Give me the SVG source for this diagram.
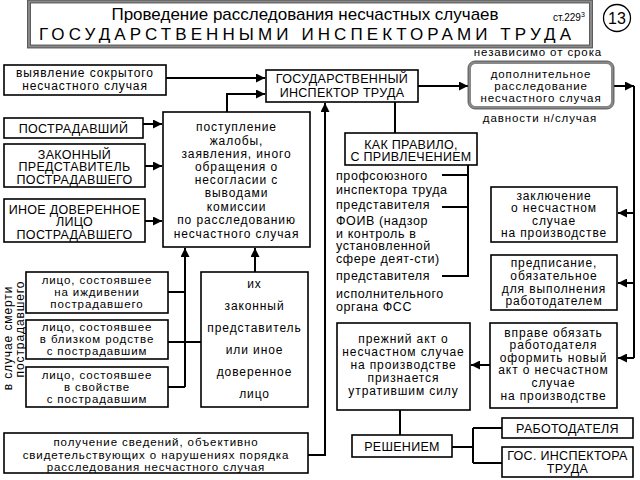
<svg xmlns="http://www.w3.org/2000/svg" width="640" height="480" viewBox="0 0 640 480">
<style>
text{font-family:"Liberation Sans",Arial,sans-serif;fill:#000}
.t{font-size:12px;letter-spacing:0.9px;text-anchor:middle}
.s{font-size:11.5px;letter-spacing:0.9px;text-anchor:middle}
.u{font-size:12.5px;letter-spacing:0.3px;text-anchor:middle}
.l{font-size:12.5px;letter-spacing:0.6px}
.b{fill:#fff;stroke:#000;stroke-width:1.6}
.c{fill:none;stroke:#000;stroke-width:2}
.ca{fill:none;stroke:#000;stroke-width:2;marker-end:url(#ah)}
</style>
<defs>
<marker id="ah" viewBox="0 0 10 10" refX="10" refY="5" markerWidth="5" markerHeight="4.5" orient="auto" markerUnits="strokeWidth">
<path d="M0,0 L10,5 L0,10 z" fill="#000"/>
</marker>
</defs>
<rect width="640" height="480" fill="#fff"/>

<g id="header">
<rect x="29" y="1.5" width="562" height="45" fill="#fff" stroke="#888" stroke-width="3"/>
<rect x="27.5" y="0" width="565" height="48" fill="none" stroke="#444" stroke-width="0.8"/>
<rect x="30.5" y="3" width="559" height="42" fill="none" stroke="#444" stroke-width="0.8"/>
<text x="305" y="20" style="font-size:17px;text-anchor:middle">Проведение расследования несчастных случаев</text>
<text x="39" y="40" style="font-size:17px" textLength="532" lengthAdjust="spacing">ГОСУДАРСТВЕННЫМИ ИНСПЕКТОРАМИ ТРУДА</text>
<text x="553" y="21" style="font-size:10px">ст.229<tspan dy="-4" style="font-size:7px">3</tspan></text>
</g>
<g id="num">
<circle cx="617" cy="18" r="13.5" fill="#fff" stroke="#000" stroke-width="1.3"/>
<text x="617" y="24" style="font-size:16px;text-anchor:middle">13</text>
</g>

<g id="connectors">
<path class="ca" d="M166,78 H265"/>
<path class="ca" d="M227,112 V94 H265"/>
<path class="ca" d="M143,124 H162"/>
<path class="ca" d="M145,166 H162"/>
<path class="ca" d="M145,221 H162"/>
<path class="c" d="M168,292 H185 M168,387 H185"/>
<path class="ca" d="M185,387 V248"/>
<path class="c" d="M168,342 H201"/>
<path class="ca" d="M255,272 V248"/>
<path class="ca" d="M308,455 H325 V103"/>
<path class="ca" d="M418,86 H468"/>
<path class="ca" d="M613,86 H634"/>
<path class="c" d="M634,86 V358"/>
<path class="ca" d="M634,213 H618"/>
<path class="ca" d="M634,283 H618"/>
<path class="ca" d="M634,358 H618"/>
<path class="ca" d="M490,365 H471"/>
<path class="c" d="M395,102 V133"/>
<path class="c" d="M468,165 V277 M442,175 H468 M442,207 H468 M442,276 H468"/>
<path class="c" d="M400,410 V435"/>
<path class="c" d="M452,447 H473 M473,428 V463 M473,428 H502 M473,463 H502"/>
</g>

<g id="n-vyyavlenie">
<rect class="b" x="4" y="65" width="162" height="30"/>
<text class="t" x="85" y="77">выявление сокрытого</text>
<text class="t" x="85" y="90">несчастного случая</text>
</g>
<g id="n-git">
<rect class="b" x="266" y="70" width="152" height="32"/>
<text class="u" x="342" y="83">ГОСУДАРСТВЕННЫЙ</text>
<text class="u" x="342" y="97">ИНСПЕКТОР ТРУДА</text>
</g>
<g id="n-dop">
<text class="s" x="538" y="56">независимо от срока</text>
<rect x="469.5" y="62.5" width="143" height="45" rx="6" fill="#fff" stroke="#888" stroke-width="3"/>
<rect x="468" y="61" width="146" height="48" rx="7" fill="none" stroke="#444" stroke-width="0.8"/>
<text class="s" x="541" y="78">дополнительное</text>
<text class="s" x="541" y="90">расследование</text>
<text class="s" x="541" y="102">несчастного случая</text>
<text class="s" x="540" y="122">давности н/случая</text>
</g>
<g id="n-postradavshiy">
<rect class="b" x="4" y="118" width="139" height="20"/>
<text class="u" x="73.5" y="132.5">ПОСТРАДАВШИЙ</text>
</g>
<g id="n-zakonny">
<rect class="b" x="4" y="144" width="141" height="43"/>
<text class="u" x="74.5" y="158.5">ЗАКОННЫЙ</text>
<text class="u" x="74.5" y="171">ПРЕДСТАВИТЕЛЬ</text>
<text class="u" x="74.5" y="183.5">ПОСТРАДАВШЕГО</text>
</g>
<g id="n-inoe">
<rect class="b" x="4" y="199" width="141" height="43"/>
<text class="u" x="74.5" y="213.5">ИНОЕ ДОВЕРЕННОЕ</text>
<text class="u" x="74.5" y="226">ЛИЦО</text>
<text class="u" x="74.5" y="238.5">ПОСТРАДАВШЕГО</text>
</g>
<g id="n-postuplenie">
<rect class="b" x="163" y="112" width="147" height="135"/>
<text class="t" x="236.5" y="131">поступление</text>
<text class="t" x="236.5" y="144.5">жалобы,</text>
<text class="t" x="236.5" y="157.5">заявления, иного</text>
<text class="t" x="236.5" y="170.5">обращения о</text>
<text class="t" x="236.5" y="184">несогласии с</text>
<text class="t" x="236.5" y="197">выводами</text>
<text class="t" x="236.5" y="210.5">комиссии</text>
<text class="t" x="236.5" y="224">по расследованию</text>
<text class="t" x="236.5" y="237.5">несчастного случая</text>
</g>
<g id="n-smert">
<text class="t" transform="translate(12,338) rotate(-90)">в случае смерти</text>
<text class="t" transform="translate(24,329) rotate(-90)">пострадавшего</text>
</g>
<g id="n-izhdivenie">
<rect class="b" x="26" y="272" width="142" height="41"/>
<text class="s" x="97" y="283.5">лицо, состоявшее</text>
<text class="s" x="97" y="295.5">на иждивении</text>
<text class="s" x="97" y="307.5">пострадавшего</text>
</g>
<g id="n-rodstvo">
<rect class="b" x="26" y="320" width="142" height="39"/>
<text class="s" x="97" y="331">лицо, состоявшее</text>
<text class="s" x="97" y="343">в близком родстве</text>
<text class="s" x="97" y="355">с пострадавшим</text>
</g>
<g id="n-svoystvo">
<rect class="b" x="26" y="367" width="142" height="40"/>
<text class="s" x="97" y="378.5">лицо, состоявшее</text>
<text class="s" x="97" y="390.5">в свойстве</text>
<text class="s" x="97" y="402.5">с пострадавшим</text>
</g>
<g id="n-ih">
<rect class="b" x="201" y="272" width="107" height="135"/>
<text class="t" x="254.5" y="287.5">их</text>
<text class="t" x="254.5" y="309.5">законный</text>
<text class="t" x="254.5" y="331.5">представитель</text>
<text class="t" x="254.5" y="353.5">или иное</text>
<text class="t" x="254.5" y="375.5">доверенное</text>
<text class="t" x="254.5" y="397.5">лицо</text>
</g>
<g id="n-poluchenie">
<rect class="b" x="4" y="433" width="304" height="40"/>
<text class="s" x="156" y="446">получение сведений, объективно</text>
<text class="s" x="156" y="458.5">свидетельствующих о нарушениях порядка</text>
<text class="s" x="156" y="470.5">расследования несчастного случая</text>
</g>
<g id="n-kakpravilo">
<rect class="b" x="345" y="133" width="132" height="32"/>
<text class="u" x="411" y="148.5">КАК ПРАВИЛО,</text>
<text class="u" x="411" y="161">С ПРИВЛЕЧЕНИЕМ</text>
</g>
<g id="n-privlechenie">
<text class="l" x="336" y="179.5">профсоюзного</text>
<text class="l" x="336" y="194">инспектора труда</text>
<text class="l" x="336" y="208.5">представителя</text>
<text class="l" x="336" y="225">ФОИВ (надзор</text>
<text class="l" x="336" y="237.5">и контроль в</text>
<text class="l" x="336" y="250">установленной</text>
<text class="l" x="336" y="262.5">сфере деят-сти)</text>
<text class="l" x="336" y="279.5">представителя</text>
<text class="l" x="336" y="298">исполнительного</text>
<text class="l" x="336" y="310.5">органа ФСС</text>
</g>
<g id="n-zaklyuchenie">
<rect class="b" x="491" y="187" width="126" height="55"/>
<text class="t" x="554" y="199.5">заключение</text>
<text class="t" x="554" y="212">о несчастном</text>
<text class="t" x="554" y="224.5">случае</text>
<text class="t" x="554" y="237">на производстве</text>
</g>
<g id="n-predpisanie">
<rect class="b" x="491" y="255" width="126" height="55"/>
<text class="t" x="554" y="267">предписание,</text>
<text class="t" x="554" y="279.5">обязательное</text>
<text class="t" x="554" y="292.5">для выполнения</text>
<text class="t" x="554" y="305">работодателем</text>
</g>
<g id="n-vprave">
<rect class="b" x="490" y="323" width="127" height="85"/>
<text class="t" x="553.5" y="336.5">вправе обязать</text>
<text class="t" x="553.5" y="349">работодателя</text>
<text class="t" x="553.5" y="361.5">оформить новый</text>
<text class="t" x="553.5" y="374">акт о несчастном</text>
<text class="t" x="553.5" y="387">случае</text>
<text class="t" x="553.5" y="399.5">на производстве</text>
</g>
<g id="n-prezhniy">
<rect class="b" x="337" y="323" width="133" height="87"/>
<text class="t" x="403.5" y="343">прежний акт о</text>
<text class="t" x="403.5" y="356">несчастном случае</text>
<text class="t" x="403.5" y="369">на производстве</text>
<text class="t" x="403.5" y="382">признается</text>
<text class="t" x="403.5" y="395">утратившим силу</text>
</g>
<g id="n-resheniem">
<rect class="b" x="352" y="435" width="100" height="22"/>
<text class="u" x="402" y="451">РЕШЕНИЕМ</text>
</g>
<g id="n-rabotodatelya">
<rect class="b" x="502" y="418" width="131" height="20"/>
<text class="u" x="567.5" y="432.5">РАБОТОДАТЕЛЯ</text>
</g>
<g id="n-gosinsp">
<rect class="b" x="502" y="447" width="131" height="30"/>
<text class="u" x="567.5" y="460">ГОС. ИНСПЕКТОРА</text>
<text class="u" x="567.5" y="473">ТРУДА</text>
</g>
</svg>
